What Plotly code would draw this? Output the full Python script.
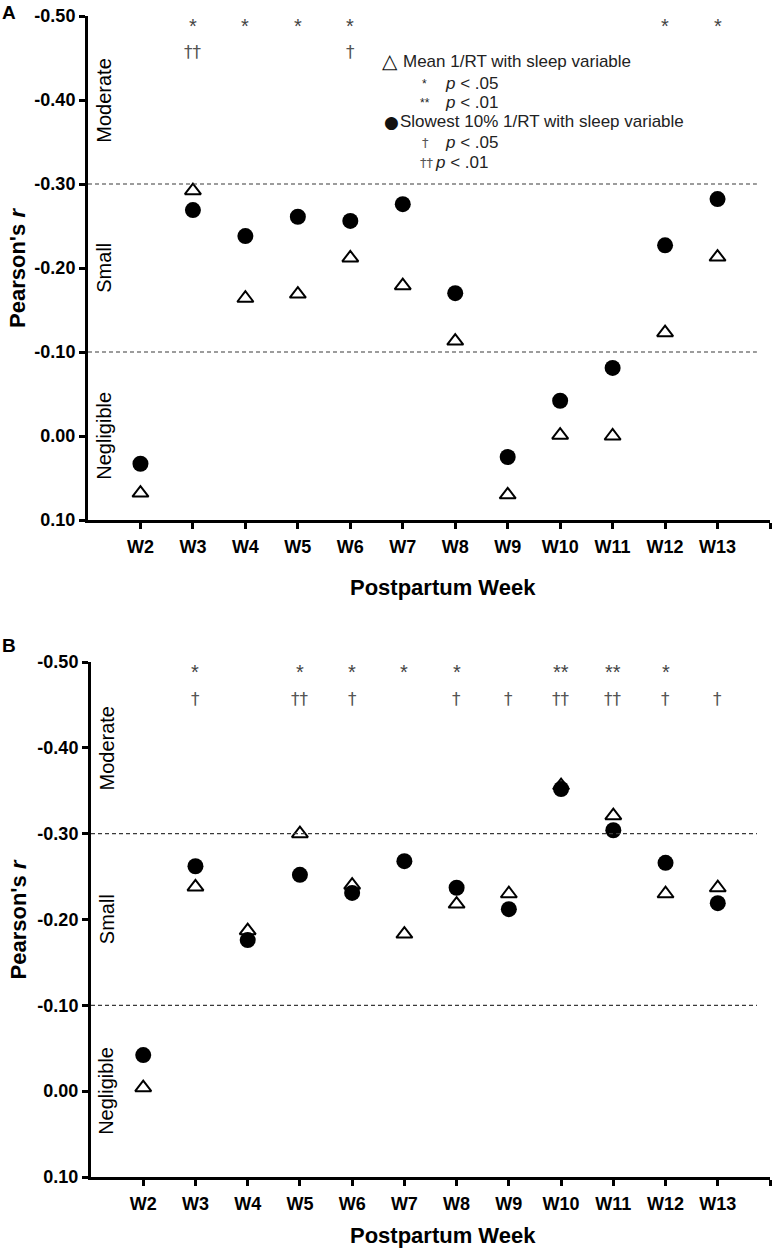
import plotly.graph_objects as go

W, H = 773, 1252

weeks = ["W2", "W3", "W4", "W5", "W6", "W7", "W8", "W9", "W10", "W11", "W12", "W13"]
week_pos = list(range(1, len(weeks) + 1))

# Panel A
a_mean = [0.068, -0.292, -0.164, -0.169, -0.212, -0.179, -0.113, 0.070, -0.001, 0.000, -0.123, -0.213]
a_slow = [0.033, -0.269, -0.238, -0.261, -0.256, -0.276, -0.170, 0.025, -0.042, -0.081, -0.227, -0.282]
a_star = ["", "*", "*", "*", "*", "", "", "", "", "", "*", "*"]
a_dagger = ["", "††", "", "", "†", "", "", "", "", "", "", ""]

# Panel B
b_mean = [-0.004, -0.238, -0.187, -0.300, -0.240, -0.183, -0.218, -0.230, -0.356, -0.321, -0.230, -0.237]
b_slow = [-0.042, -0.262, -0.176, -0.252, -0.231, -0.268, -0.237, -0.212, -0.352, -0.304, -0.266, -0.219]
b_star = ["", "*", "", "*", "*", "*", "*", "", "**", "**", "*", ""]
b_dagger = ["", "†", "", "††", "†", "", "†", "†", "††", "††", "†", "†"]

y_ticks = [-0.50, -0.40, -0.30, -0.20, -0.10, 0.00, 0.10]
y_ticktext = ["-0.50", "-0.40", "-0.30", "-0.20", "-0.10", "0.00", "0.10"]
cutoffs = [-0.30, -0.10]
zones = [("Moderate", -0.40), ("Small", -0.20), ("Negligible", 0.00)]

SANS = "Liberation Sans, Arial, sans-serif"
DAG = "DejaVu Sans, sans-serif"


def px(x):
    return x / W


def py(y):
    return 1 - y / H


fig = go.Figure()

panels = [
    dict(mean=a_mean, slow=a_slow, star=a_star, dagger=a_dagger,
         xdom=(88, 770), ytop=16, ybot=520, letter="A", letter_y=12, title_y=587),
    dict(mean=b_mean, slow=b_slow, star=b_star, dagger=b_dagger,
         xdom=(91, 770), ytop=662, ybot=1177, letter="B", letter_y=645, title_y=1235),
]

annotations = []
shapes = []

for i, p in enumerate(panels, start=1):
    xa = "x" if i == 1 else f"x{i}"
    ya = "y" if i == 1 else f"y{i}"

    fig.add_trace(go.Scatter(
        x=week_pos, y=p["mean"], mode="markers", xaxis=xa, yaxis=ya,
        marker=dict(symbol="triangle-up-open", size=14, color="black", line=dict(width=2, color="black")),
        showlegend=False, hoverinfo="skip",
    ))
    fig.add_trace(go.Scatter(
        x=week_pos, y=p["slow"], mode="markers", xaxis=xa, yaxis=ya,
        marker=dict(symbol="circle", size=16, color="black"),
        showlegend=False, hoverinfo="skip",
    ))

    axis_common = dict(
        showline=True, linewidth=3, linecolor="black", showgrid=False, zeroline=False,
        ticks="outside", ticklen=6, tickwidth=3, tickcolor="black", automargin=False,
    )
    fig.update_layout(**{
        ("xaxis" if i == 1 else f"xaxis{i}"): dict(
            axis_common,
            domain=[px(p["xdom"][0]), px(p["xdom"][1])],
            anchor=ya, range=[0, 13],
            tickvals=week_pos + [13], ticktext=weeks + [""],
            tickfont=dict(family=SANS, size=18, color="black", weight="bold"),
            ticklabelstandoff=2,
        ),
        ("yaxis" if i == 1 else f"yaxis{i}"): dict(
            axis_common,
            domain=[py(p["ybot"]), py(p["ytop"])],
            anchor=xa, range=[0.10, -0.50],
            tickvals=y_ticks, ticktext=y_ticktext,
            tickfont=dict(family=SANS, size=18, color="black", weight="bold"),
        ),
    })

    for c in cutoffs:
        shapes.append(dict(type="line", xref=xa, yref=ya, x0=0, x1=12.75, y0=c, y1=c,
                           line=dict(color="#3a3a3a", width=1.2, dash="4px,3px")))

    for name, yv in zones:
        annotations.append(dict(xref=xa, yref=ya, x=0.3, y=yv, text=name, textangle=-90,
                                showarrow=False, font=dict(family=SANS, size=20, color="black")))

    for xv, s in zip(week_pos, p["star"]):
        if s:
            annotations.append(dict(xref=xa, yref=ya, x=xv, y=-0.488, text=s, showarrow=False,
                                    font=dict(family=SANS, size=20, color="#444444")))
    for xv, s in zip(week_pos, p["dagger"]):
        if s:
            annotations.append(dict(xref=xa, yref=ya, x=xv, y=-0.457, text=s, showarrow=False,
                                    font=dict(family=DAG, size=17, color="#555555")))

    annotations.append(dict(xref="paper", yref=ya, x=px(18), y=-0.20, text="Pearson's <i>r</i>",
                            textangle=-90, showarrow=False, xanchor="center", yanchor="middle",
                            font=dict(family=SANS, size=22, color="black", weight="bold")))
    annotations.append(dict(xref="paper", yref="paper", x=px(443), y=py(p["title_y"]),
                            text="Postpartum Week", showarrow=False, xanchor="center", yanchor="middle",
                            font=dict(family=SANS, size=22, color="black", weight="bold")))
    annotations.append(dict(xref="paper", yref="paper", x=px(0), y=py(p["letter_y"]),
                            xanchor="left", yanchor="middle", text=p["letter"], showarrow=False,
                            font=dict(family=SANS, size=19, color="black", weight="bold")))

# legend block (panel A)
LEG = dict(family=SANS, size=17, color="#222222")
legend_items = [
    (380, 61, "△"), (401, 61, "Mean 1/RT with sleep variable"),
    (420, 84, "*"), (443, 84, "<i>p</i> < .05"),
    (418, 103, "**"), (443, 103, "<i>p</i> < .01"),
    (382, 122, "●"), (398, 122, "Slowest 10% 1/RT with sleep variable"),
    (420, 143, "†"), (443, 143, "<i>p</i> < .05"),
    (418, 163, "††"), (433, 163, "<i>p</i> < .01"),
]
for lx, ly, txt in legend_items:
    f = dict(LEG)
    if txt == "△":
        f = dict(family="DejaVu Sans", size=20, color="#111111")
    if txt == "●":
        f = dict(family="DejaVu Sans", size=17, color="#111111")
    if txt in ("*", "**"):
        f["size"] = 12
    if txt in ("†", "††"):
        f = dict(family=DAG, size=13, color="#555555")
    annotations.append(dict(xref="paper", yref="paper", x=px(lx), y=py(ly), xanchor="left",
                            yanchor="middle", text=txt, showarrow=False, font=f))

fig.update_layout(
    width=W, height=H, autosize=False,
    margin=dict(l=0, r=0, t=0, b=0, pad=0),
    paper_bgcolor="white", plot_bgcolor="white",
    annotations=annotations, shapes=shapes,
    font=dict(family=SANS),
)

fig.write_html("out.html", config={"displayModeBar": False},
               post_script="document.body.style.margin='0';")
